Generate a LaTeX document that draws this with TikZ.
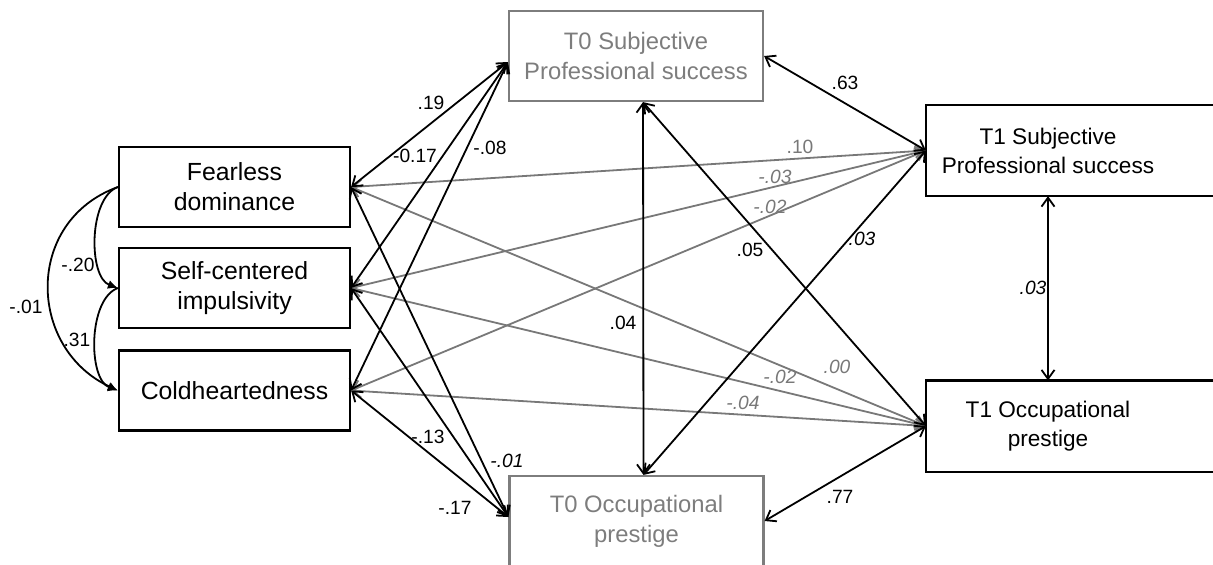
\documentclass[tikz,border=0pt]{standalone}
\usepackage{fontspec}
\setmainfont{Liberation Sans}
\usetikzlibrary{arrows.meta,calc}
\definecolor{lgray}{RGB}{120,120,120}
\definecolor{tgray}{RGB}{125,125,125}
\begin{document}
\begin{tikzpicture}[x=0.5pt,y=-0.5pt,
  box/.style={draw, line width=1.1pt, align=center, inner sep=0pt},
  lbox/.style={box, minimum width=115.5pt, minimum height=40pt, font=\fontsize{12.4}{15}\selectfont},
  gbox/.style={box, draw=tgray, text=tgray, minimum width=127pt, minimum height=45pt, font=\fontsize{11.9}{15}\selectfont},
  tbox/.style={box, draw=none, minimum width=121pt, minimum height=44.5pt, font=\fontsize{11.3}{14.5}\selectfont},
  conn/.style={line width=0.9pt, {Straight Barb[length=4.5pt,width=6.5pt]}-{Straight Barb[length=4.5pt,width=6.5pt]}},
  bconn/.style={conn, draw=black},
  gconn/.style={conn, draw=lgray},
  cov/.style={line width=0.9pt, -{Latex[length=5pt,width=4.5pt]}},
  lab/.style={font=\fontsize{9.6}{11}\selectfont, inner sep=0pt},
  ilab/.style={lab, font=\fontsize{9.6}{11}\selectfont\itshape},
  glab/.style={ilab, text=lgray}
]
\useasboundingbox (0,0) rectangle (1213,564);
% boxes
\node[lbox] (fd) at (234.5,187) {Fearless\\dominance};
\node[lbox] (sc) at (234.5,288) {Self-centered\\impulsivity};
\node[lbox] (ch) at (234.5,390.5) {Coldheartedness};
\node[gbox] (t0s) at (636,56) {T0 Subjective\\Professional success};
\node[gbox] (t0o) at (636.5,521) {T0 Occupational\\prestige};
\node[tbox] (t1s) at (1048,150.5) {T1 Subjective\\Professional success};
\node[tbox] (t1o) at (1048,426) {T1 Occupational\\prestige};
\draw[line width=1.1pt] ([xshift=80pt]t1s.north east) -- (t1s.north west) -- (t1s.south west) -- ([xshift=80pt]t1s.south east);
\draw[line width=1.1pt] ([xshift=80pt]t1o.north east) -- (t1o.north west) -- (t1o.south west) -- ([xshift=80pt]t1o.south east);
% anchor points
\coordinate (t0sb) at ([xshift=3.5pt]t0s.south);
\coordinate (t0ot) at ([xshift=3.5pt]t0o.north);
\coordinate (t0sw) at ([yshift=-3pt]t0s.west);
\coordinate (t0ow) at ([yshift=2pt]t0o.west);
% gray connectors
\draw[gconn] (fd.east) -- (t1s.west);
\draw[gconn] (sc.east) -- (t1s.west);
\draw[gconn] (ch.east) -- (t1s.west);
\draw[gconn] (fd.east) -- (t1o.west);
\draw[gconn] (sc.east) -- (t1o.west);
\draw[gconn] (ch.east) -- (t1o.west);
% black connectors
\draw[bconn] (fd.east) -- (t0sw);
\draw[bconn] (sc.east) -- (t0sw);
\draw[bconn] (ch.east) -- (t0sw);
\draw[bconn] (fd.east) -- (t0ow);
\draw[bconn] (sc.east) -- (t0ow);
\draw[bconn] (ch.east) -- (t0ow);
\draw[bconn] (t0sb) -- (t0ot);
\draw[bconn] (t0sb) -- (t1o.west);
\draw[bconn] (t0ot) -- (t1s.west);
\draw[bconn] (t0s.east) -- (t1s.west);
\draw[bconn] (t0o.east) -- (t1o.west);
\draw[bconn] (t1s.south) -- (t1o.north);
% covariances
\draw[cov] (fd.west) to[out=200,in=160,looseness=0.8] (sc.west);
\draw[cov] (sc.west) to[out=200,in=160,looseness=0.8] (ch.west);
\draw[cov] (fd.west) to[out=200,in=155,looseness=1.26] (ch.west);
% labels
\node[lab] (l1) at (431,103) {.19};
\node[lab] (l2) at (415,156) {-0.17};
\node[lab] (l3) at (490,148) {-.08};
\node[lab] (l4) at (428,437) {-.13};
\node[ilab] (l5) at (507,461) {-.01};
\node[lab] (l6) at (455,508) {-.17};
\node[lab, text=lgray] (l7) at (800,147) {.10};
\node[glab] (l8) at (775,177) {-.03};
\node[glab] (l9) at (770,207) {-.02};
\node[ilab] (l10) at (862,239) {.03};
\node[lab] (l11) at (750,250) {.05};
\node[lab] (l12) at (623,323) {.04};
\node[glab] (l13) at (837,367) {.00};
\node[glab] (l14) at (780,377) {-.02};
\node[glab] (l15) at (743,403) {-.04};
\node[lab] (l16) at (845,83) {.63};
\node[lab] (l17) at (840,497) {.77};
\node[ilab] (l18) at (1033,288) {.03};
\node[lab] (l19) at (78,265) {-.20};
\node[lab] (l20) at (77,340) {.31};
\node[lab] (l21) at (26,307) {-.01};
\end{tikzpicture}
\end{document}
